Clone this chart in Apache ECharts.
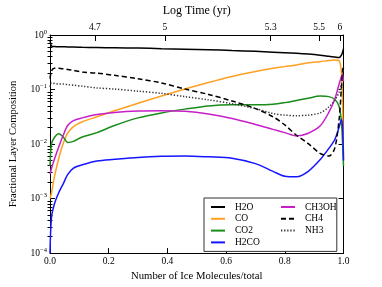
<!DOCTYPE html>
<html><head><meta charset="utf-8">
<script src="https://cdn.jsdelivr.net/npm/echarts@6/dist/echarts.min.js"></script>
<style>html,body{margin:0;padding:0;background:#fff}#c{width:382px;height:287px}</style>
</head><body><div id="c"></div>
<script>
const xs = [0, 0.005, 0.015, 0.03, 0.045, 0.06, 0.08, 0.11, 0.16, 0.22, 0.3, 0.38, 0.46, 0.54, 0.62, 0.7, 0.76, 0.8, 0.84, 0.88, 0.92, 0.95, 0.97, 0.985, 0.993, 0.997, 1.0];
const H2O   = [0.794,0.631,0.617,0.61,0.61,0.603,0.603,0.596,0.589,0.582,0.575,0.562,0.55,0.537,0.519,0.501,0.484,0.473,0.462,0.447,0.427,0.407,0.394,0.385,0.427,0.49,0.562];
const CO    = [0.001,0.00126,0.00251,0.0055,0.0102,0.0158,0.0209,0.0257,0.0316,0.0407,0.0562,0.0759,0.102,0.135,0.174,0.214,0.245,0.263,0.282,0.309,0.324,0.339,0.347,0.339,0.2,0.05,0.005];
const CO2   = [0.00398,0.01,0.0132,0.0155,0.0135,0.0107,0.0112,0.0135,0.0162,0.0219,0.0302,0.0372,0.0437,0.0501,0.0525,0.0525,0.0537,0.0575,0.0631,0.0692,0.0759,0.0741,0.0661,0.049,0.0251,0.01,0.00398];
const H2CO  = [0.0001,0.000447,0.000794,0.00129,0.00186,0.00275,0.00363,0.00417,0.0049,0.00525,0.00569,0.00596,0.00603,0.00582,0.0055,0.00437,0.00316,0.00257,0.00251,0.00316,0.00513,0.00832,0.012,0.0204,0.0282,0.02,0.005];
const CH3OH = [0.00282,0.00355,0.00525,0.00891,0.0145,0.0219,0.0269,0.0302,0.0347,0.038,0.0403,0.0407,0.0398,0.0355,0.0295,0.0229,0.0186,0.0162,0.0141,0.0158,0.0214,0.038,0.0661,0.126,0.174,0.191,0.141];
const CH4   = [0.158,0.219,0.245,0.245,0.24,0.234,0.224,0.209,0.2,0.182,0.158,0.132,0.102,0.0813,0.0617,0.0447,0.0316,0.0224,0.0145,0.0102,0.00676,0.00603,0.00832,0.0282,0.112,0.224,0.282];
const NH3   = [0.112,0.132,0.129,0.126,0.126,0.123,0.12,0.115,0.107,0.102,0.0933,0.0851,0.0741,0.0646,0.055,0.0447,0.0363,0.0339,0.0331,0.0339,0.0372,0.0479,0.0631,0.0891,0.126,0.178,0.251];
const topTickPos = [0.153, 0.391, 0.752, 0.917, 0.988];
const topTickLabels = ['4.7', '5', '5.3', '5.5', '6'];
const xTicks = [0, 0.2, 0.4, 0.6, 0.8, 1.0];

const minorVals = [];
for (let e = -4; e < 0; e++) for (let m = 2; m <= 9; m++) minorVals.push(m * Math.pow(10, e));

const FONT = 'Liberation Serif';
const pair = arr => xs.map((x, i) => [x, arr[i]]);
function line(name, data, color, type) {
  return { name, type: 'line', data: pair(data), symbol: 'none', smooth: 0.3,
    xAxisIndex: 0, yAxisIndex: 0,
    lineStyle: { color, width: 1.5, type: type || 'solid' }, itemStyle: { color } };
}
const logAxisBase = (pos, labels) => ({
  type: 'log', logBase: 10, min: 1e-4, max: 1, position: pos,
  axisLine: { show: true, onZero: false, lineStyle: { color: '#000', width: 1 } },
  axisTick: { show: true, inside: true, length: 5, lineStyle: { color: '#000' } },
  splitLine: { show: false },
  axisLabel: labels ? {
    show: true, fontFamily: FONT, fontSize: 9.5, color: '#000', margin: 3,
    formatter: v => '10{s|' + String(Math.round(Math.log10(v))).replace('-', '\u2212') + '}',
    rich: { s: { fontSize: 6.5, fontFamily: FONT, color: '#000', padding: [0, 0, 6, 0] } }
  } : { show: false }
});
const minorAxis = pos => ({
  type: 'log', logBase: 10, min: 1e-4, max: 1, position: pos,
  axisLine: { show: false },
  axisTick: { show: true, inside: true, length: 2.5, customValues: minorVals, lineStyle: { color: '#000' } },
  axisLabel: { show: false }, splitLine: { show: false }
});
const legendCommon = {
  orient: 'vertical', top: 198, itemWidth: 14, itemHeight: 8, itemGap: 1.8,
  itemStyle: { opacity: 0 },
  textStyle: { fontFamily: FONT, fontSize: 9.5, color: '#000', padding: [0, 0, 0, 5] }
};

const chart = echarts.init(document.getElementById('c'), null, { renderer: 'canvas' });
chart.setOption({
  animation: false,
  backgroundColor: '#fff',
  grid: { left: 47.5, right: 38.5, top: 29.5, bottom: 29.7, containLabel: false },
  xAxis: [
    { type: 'value', min: 0, max: 1, interval: 0.2, position: 'bottom',
      name: 'Number of Ice Molecules/total', nameLocation: 'middle', nameGap: 17,
      nameTextStyle: { fontFamily: FONT, fontSize: 10.7, color: '#000' },
      axisLine: { show: true, onZero: false, lineStyle: { color: '#000' } },
      axisTick: { show: true, inside: true, length: 5, customValues: xTicks, lineStyle: { color: '#000' } },
      axisLabel: { fontFamily: FONT, fontSize: 9.5, color: '#000', margin: 3, customValues: xTicks, formatter: v => v.toFixed(1) },
      splitLine: { show: false } },
    { type: 'value', min: 0, max: 1, position: 'top',
      name: 'Log Time (yr)', nameLocation: 'middle', nameGap: 18,
      nameTextStyle: { fontFamily: FONT, fontSize: 12, color: '#000' },
      axisLine: { show: true, onZero: false, lineStyle: { color: '#000' } },
      axisTick: { show: true, inside: true, length: 6, customValues: topTickPos, lineStyle: { color: '#000' } },
      axisLabel: { fontFamily: FONT, fontSize: 9.5, color: '#000', margin: 3, customValues: topTickPos,
        formatter: v => { const i = topTickPos.findIndex(p => Math.abs(p - v) < 1e-6); return i >= 0 ? topTickLabels[i] : ''; } },
      splitLine: { show: false } }
  ],
  yAxis: [
    Object.assign(logAxisBase('left', true), {
      name: 'Fractional Layer Composition', nameLocation: 'middle', nameGap: 31,
      nameTextStyle: { fontFamily: FONT, fontSize: 10.5, color: '#000' } }),
    minorAxis('left'),
    logAxisBase('right', false),
    minorAxis('right')
  ],
  legend: [
    Object.assign({}, legendCommon, { data: ['H2O', 'CO', 'CO2', 'H2CO'], left: 204,
      padding: [4, 77, 4, 6], backgroundColor: '#fff', borderColor: '#333', borderWidth: 1, borderRadius: 0 }),
    Object.assign({}, legendCommon, { data: ['CH3OH', 'CH4', 'NH3'], left: 275, padding: [4, 4, 4, 5] })
  ],
  series: [
    line('H2O', H2O, '#000000'),
    line('CO', CO, '#ffa020'),
    line('CO2', CO2, '#1a8c1a'),
    line('H2CO', H2CO, '#1515ff'),
    line('CH3OH', CH3OH, '#c71fc7'),
    line('CH4', CH4, '#000000', [5, 3]),
    line('NH3', NH3, '#333333', [1.3, 1.8])
  ]
});
</script></body></html>
